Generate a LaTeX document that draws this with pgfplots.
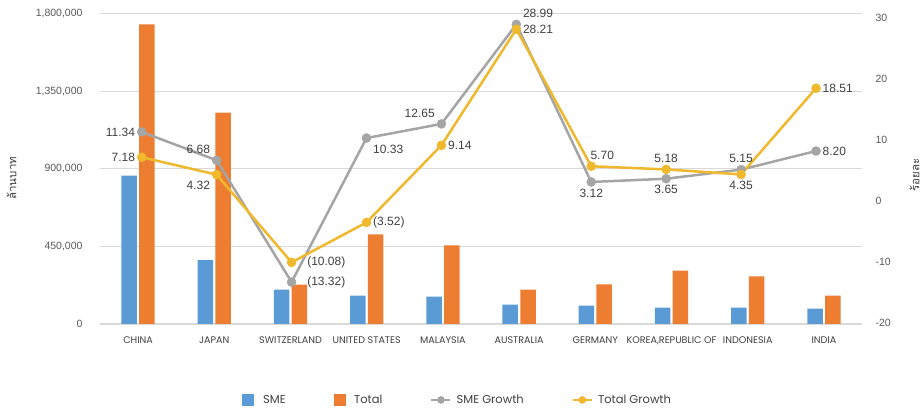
\documentclass[border=0pt]{standalone}
\usepackage{fontspec}
\setmainfont{Liberation Sans}
\newfontfamily\geo{Poppins}
\newfontfamily\thaifont[Script=Thai]{Loma}
\usepackage{pgfplots}
\usepackage{pgfplotstable}
\pgfplotsset{compat=1.18}

\definecolor{smeblue}{HTML}{5B9BD5}
\definecolor{totorange}{HTML}{ED7D31}
\definecolor{smegray}{HTML}{A5A5A5}
\definecolor{totgold}{HTML}{F0B82C}
\definecolor{gridgray}{HTML}{D9D9D9}
\definecolor{txt}{HTML}{404040}
\definecolor{ticktxt}{HTML}{595959}

% trade value (million baht) per country
\pgfplotstableread{
x sme total
0 861000 1740000
1 371000 1227000
2 200000 229000
3 165000 521000
4 159000 457000
5 113000 200000
6 107000 230000
7 95000 310000
8 95000 276000
9 89000 165000
}\trade

% growth in percent
\pgfplotstableread{
x smeg totg
0 11.34 7.18
1 6.68 4.32
2 -13.32 -10.08
3 10.33 -3.52
4 12.65 9.14
5 28.99 28.21
6 3.12 5.70
7 3.65 5.18
8 5.15 4.35
9 8.20 18.51
}\growth

% data labels, grouped by the side of the marker they sit on
\newcommand\lab[3][]{\addplot[forget plot, draw=none, mark=none, nodes near coords,
  point meta=explicit symbolic, every node near coord/.append style={anchor=#2, #1}]
  coordinates {#3};}

\begin{document}
\begin{tikzpicture}
\begin{axis}[
  at={(0,0)}, anchor=south west,
  scale only axis, width=762pt, height=310pt,
  xmin=-0.5, xmax=9.5, ymin=0, ymax=1800000,
  ybar=2.3pt, bar width=15.5pt,
  axis line style={draw=none},
  major tick length=0pt,
  xtick={0,...,9},
  xticklabels={CHINA,JAPAN,SWITZERLAND,UNITED STATES,MALAYSIA,AUSTRALIA,GERMANY,{KOREA,REPUBLIC OF},INDONESIA,INDIA},
  xticklabel style={font=\geo\fontsize{9.6}{11}\selectfont, text=txt, yshift=-9pt},
  ytick={0,450000,900000,1350000,1800000},
  scaled y ticks=false,
  /pgf/number format/assume math mode=true,
  yticklabel style={font=\fontsize{10.5}{12}\selectfont, text=ticktxt, xshift=-14pt,
    /pgf/number format/fixed, /pgf/number format/1000 sep={,}},
  ymajorgrids, grid style={gridgray, line width=1pt},
  extra y ticks={0}, extra y tick labels={},
  extra y tick style={grid style={gridgray, line width=2pt}},
  ylabel={\thaifont ล้านบาท},
  ylabel style={at={(axis description cs:-0.116,0.47)}, anchor=center, font=\fontsize{11.5}{13}\selectfont, text=txt},
]
\addplot[fill=smeblue, draw=none] table[x=x, y=sme] {\trade};
\addplot[fill=totorange, draw=none] table[x=x, y=total] {\trade};
\end{axis}

\begin{axis}[
  at={(0,0)}, anchor=south west,
  scale only axis, width=762pt, height=310pt,
  xmin=-0.557, xmax=9.614, ymin=-20.2, ymax=30.7,
  axis x line=none,
  axis y line*=right,
  axis line style={draw=none},
  major tick length=0pt,
  ytick={-20,-10,0,10,20,30},
  /pgf/number format/assume math mode=true,
  yticklabel style={font=\fontsize{10.5}{12}\selectfont, text=ticktxt, xshift=10pt},
  ylabel={\thaifont ร้อยละ},
  ylabel style={at={(axis description cs:1.069,0.48)}, anchor=center, font=\fontsize{11.5}{13}\selectfont, text=txt},
  legend style={at={(axis description cs:0.469,-0.245)}, anchor=center, draw=none, fill=none,
    font=\geo\fontsize{11.5}{13}\selectfont, text=txt,
    /tikz/every even column/.append style={column sep=46pt}},
  legend columns=4, legend cell align=left,
  every node near coord/.append style={font=\fontsize{12}{14}\selectfont, text=txt, inner sep=6.5pt},
]
\addlegendimage{legend image code/.code={\fill[smeblue] (0pt,-5.5pt) rectangle (11pt,5.5pt); \path (19pt,0pt);}}
\addlegendimage{legend image code/.code={\fill[totorange] (0pt,-5.5pt) rectangle (11pt,5.5pt); \path (18pt,0pt);}}
\addlegendimage{legend image code/.code={\draw[smegray, line width=2pt] (0pt,0pt) -- (19pt,0pt);
  \fill[smegray] (9.5pt,0pt) circle (3.6pt); \path (23pt,0pt);}}
\addlegendimage{legend image code/.code={\draw[totgold, line width=2pt] (0pt,0pt) -- (19pt,0pt);
  \fill[totgold] (9.5pt,0pt) circle (3.6pt); \path (23pt,0pt);}}
\addplot[forget plot, smegray, line width=2.5pt, mark=*, mark size=4.5pt, mark options={line width=0.5pt}]
  table[x=x, y=smeg] {\growth};
\addplot[forget plot, totgold, line width=2.5pt, mark=*, mark size=4.5pt, mark options={line width=0.5pt}]
  table[x=x, y=totg] {\growth};
% SME growth labels
\lab{east}{(0,11.34)[11.34]}
\lab{south east}{(1,6.68)[6.68] (4,12.65)[12.65]}
\lab[xshift=9pt]{west}{(2,-13.32)[(13.32)]}
\lab{west}{(9,8.20)[8.20]}
\lab{north west}{(3,10.33)[10.33]}
\lab{south west}{(5,28.99)[28.99]}
\lab{north}{(6,3.12)[3.12] (7,3.65)[3.65]}
\lab{south}{(8,5.15)[5.15]}
% total growth labels
\lab{east}{(0,7.18)[7.18]}
\lab{north east}{(1,4.32)[4.32]}
\lab[xshift=9pt]{west}{(2,-10.08)[(10.08)]}
\lab{west}{(3,-3.52)[(3.52)] (4,9.14)[9.14] (5,28.21)[28.21] (9,18.51)[18.51]}
\lab[xshift=11pt]{south}{(6,5.70)[5.70]}
\lab{south}{(7,5.18)[5.18]}
\lab{north}{(8,4.35)[4.35]}
\legend{SME, Total, SME Growth, Total Growth}
\end{axis}
\pgfresetboundingbox
\path[use as bounding box] (-100pt,-87pt) rectangle (823pt,324pt);
\end{tikzpicture}
\end{document}
